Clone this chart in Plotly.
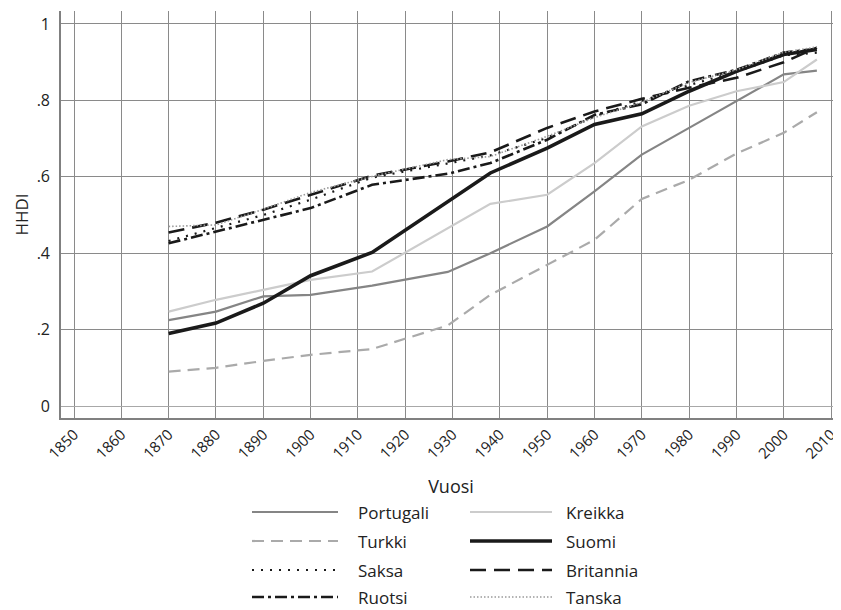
import plotly.graph_objects as go

years = [1870, 1880, 1890, 1900, 1913, 1929, 1938, 1950, 1960, 1970, 1980, 1990, 2000, 2007]

portugali = [0.225, 0.247, 0.287, 0.291, 0.315, 0.351, 0.400, 0.470, 0.562, 0.658, 0.728, 0.798, 0.868, 0.878]
kreikka   = [0.247, 0.278, 0.304, 0.330, 0.352, 0.464, 0.529, 0.553, 0.636, 0.732, 0.786, 0.824, 0.848, 0.907]
turkki    = [0.090, 0.100, 0.118, 0.134, 0.149, 0.211, 0.291, 0.370, 0.435, 0.542, 0.592, 0.661, 0.715, 0.769]
suomi     = [0.190, 0.217, 0.269, 0.341, 0.402, 0.536, 0.610, 0.675, 0.737, 0.765, 0.824, 0.876, 0.920, 0.933]
saksa     = [0.432, 0.465, 0.500, 0.540, 0.598, 0.635, 0.656, 0.702, 0.758, 0.798, 0.840, 0.875, 0.918, 0.925]
britannia = [0.454, 0.480, 0.514, 0.553, 0.603, 0.640, 0.664, 0.728, 0.771, 0.804, 0.833, 0.859, 0.900, 0.938]
ruotsi    = [0.426, 0.457, 0.488, 0.518, 0.579, 0.608, 0.636, 0.697, 0.762, 0.790, 0.850, 0.880, 0.925, 0.935]
tanska    = [0.470, 0.474, 0.515, 0.559, 0.601, 0.645, 0.653, 0.706, 0.755, 0.795, 0.847, 0.880, 0.926, 0.940]

x_ticks = list(range(1850, 2011, 10))
y_ticks = [0, 0.2, 0.4, 0.6, 0.8, 1]
y_tick_labels = ["0", ".2", ".4", ".6", ".8", "1"]

series = [
    ("Portugali", portugali, dict(color="#858585", width=2.2, dash="solid")),
    ("Kreikka", kreikka, dict(color="#cccccc", width=2.2, dash="solid")),
    ("Turkki", turkki, dict(color="#aaaaaa", width=2.2, dash="12px,7px")),
    ("Suomi", suomi, dict(color="#1a1a1a", width=3.6, dash="solid")),
    ("Saksa", saksa, dict(color="#1a1a1a", width=2.2, dash="2px,7px")),
    ("Britannia", britannia, dict(color="#1a1a1a", width=2.6, dash="16px,8px")),
    ("Ruotsi", ruotsi, dict(color="#1a1a1a", width=2.6, dash="12px,4px,3px,4px")),
    ("Tanska", tanska, dict(color="#9a9a9a", width=1.6, dash="1.5px,2px")),
]

FONT = "Open Sans"

fig = go.Figure()
for name, vals, ln in series:
    fig.add_trace(go.Scatter(x=years, y=vals, name=name, mode="lines",
                             line=ln, showlegend=False))

# the page body adds an 8px offset; figure is sized to compensate
OFF = 8
W, H = 841 - OFF, 610 - OFF
L, R, T, B = 61 - OFF, 0, 11 - OFF, 192
pw, ph = W - L - R, H - T - B

def px(xp):
    return (xp - OFF - L) / pw

def py(yp):
    return (H - B - (yp - OFF)) / ph

# custom legend (two columns)
rows = [512, 541, 570, 597]
cols = [(252, 338, 357), (470, 552, 565)]
shapes = []
annotations = []
for i, (name, vals, ln) in enumerate(series):
    r, c = i // 2, i % 2
    x0, x1, xt = cols[c]
    yy = rows[r]
    shapes.append(dict(type="line", xref="paper", yref="paper",
                       x0=px(x0), x1=px(x1), y0=py(yy), y1=py(yy),
                       line=dict(color=ln["color"], width=ln["width"], dash=ln["dash"])))
    annotations.append(dict(xref="paper", yref="paper", x=px(xt), y=py(yy),
                            text=name, showarrow=False, xanchor="left", yanchor="middle",
                            borderpad=0,
                            font=dict(family=FONT, size=17, color="#222222")))

fig.update_layout(
    width=W, height=H,
    margin=dict(l=L, r=R, t=T, b=B),
    paper_bgcolor="white", plot_bgcolor="white",
    font=dict(family=FONT, size=15, color="#222222"),
    shapes=shapes, annotations=annotations,
    xaxis=dict(range=[1847.25, 2012.1], tickvals=x_ticks, tickangle=-45,
               showgrid=True, gridcolor="#8a8a8a", gridwidth=1.2,
               showline=True, linecolor="#808080", linewidth=1.6,
               zeroline=False, ticks="", tickfont=dict(size=15),
               automargin=False,
               title=dict(text="Vuosi", standoff=19, font=dict(size=18))),
    yaxis=dict(range=[-0.0314, 1.034], tickvals=y_ticks, ticktext=y_tick_labels,
               showgrid=True, gridcolor="#8a8a8a", gridwidth=1.2,
               showline=True, linecolor="#808080", linewidth=1.6,
               zeroline=True, zerolinecolor="#a8a8a8", zerolinewidth=1.2,
               ticks="", ticklabelstandoff=6, tickfont=dict(size=16),
               automargin=False,
               title=dict(text="HHDI", standoff=4, font=dict(size=17))),
)

fig.write_html("out.html")
